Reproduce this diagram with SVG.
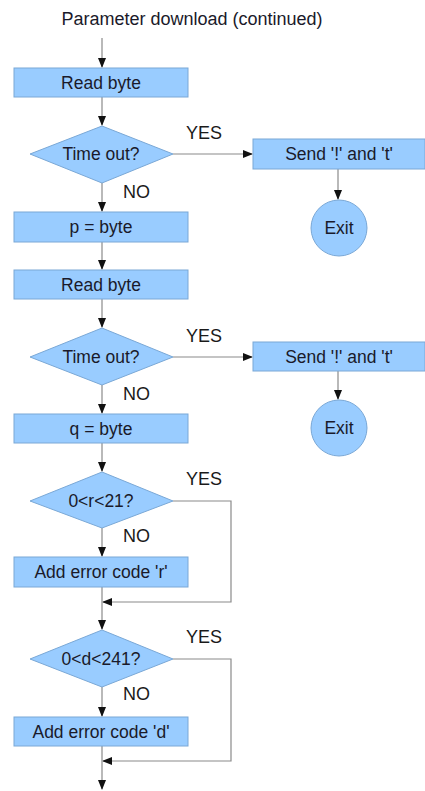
<svg xmlns="http://www.w3.org/2000/svg" width="425" height="791" viewBox="0 0 425 791">
<style>
.n{fill:#99ccff;stroke:#7aa8d6;stroke-width:1}
.t{font-family:"Liberation Sans",Arial,sans-serif;font-size:17.5px;fill:#1a1a2a;text-anchor:middle}
.l{font-family:"Liberation Sans",Arial,sans-serif;font-size:18px;fill:#1a1a1a}
.c{fill:none;stroke:#8a8a8a;stroke-width:1.2}
</style>
<defs>
<marker id="a" markerWidth="10" markerHeight="10" refX="9" refY="4" orient="auto" markerUnits="userSpaceOnUse">
<path d="M0,0 L10,4 L0,8 Z" fill="#111"/>
</marker>
</defs>
<rect width="425" height="791" fill="#fff"/>
<text class="t" x="192" y="25" style="font-size:18px">Parameter download (continued)</text>
<g id="connectors">
<path class="c" d="M102,38 V67" marker-end="url(#a)"/>
<path class="c" d="M102,97 V125" marker-end="url(#a)"/>
<path class="c" d="M173,154 H252" marker-end="url(#a)"/>
<path class="c" d="M338,169 V199" marker-end="url(#a)"/>
<path class="c" d="M102,183 V211" marker-end="url(#a)"/>
<path class="c" d="M102,242 V269" marker-end="url(#a)"/>
<path class="c" d="M102,299 V327" marker-end="url(#a)"/>
<path class="c" d="M173,357 H252" marker-end="url(#a)"/>
<path class="c" d="M338,371 V399" marker-end="url(#a)"/>
<path class="c" d="M102,385 V413" marker-end="url(#a)"/>
<path class="c" d="M102,443 V471" marker-end="url(#a)"/>
<path class="c" d="M102,528 V556" marker-end="url(#a)"/>
<path class="c" d="M173,501 H231 V602 H103" marker-end="url(#a)"/>
<path class="c" d="M102,587 V629" marker-end="url(#a)"/>
<path class="c" d="M102,687 V716" marker-end="url(#a)"/>
<path class="c" d="M173,659 H231 V761 H103" marker-end="url(#a)"/>
<path class="c" d="M102,746 V789" marker-end="url(#a)"/>
<text class="l" x="186" y="139">YES</text>
<text class="l" x="123" y="198">NO</text>
<text class="l" x="186" y="342">YES</text>
<text class="l" x="123" y="400">NO</text>
<text class="l" x="186" y="485">YES</text>
<text class="l" x="123" y="542">NO</text>
<text class="l" x="186" y="643">YES</text>
<text class="l" x="123" y="700">NO</text>
</g>
<g id="read1"><rect class="n" x="14" y="68" width="174" height="29"/><text class="t" x="101" y="89">Read byte</text></g>
<g id="timeout1"><polygon class="n" points="102,126 173,154 102,183 30,154"/><text class="t" x="101" y="160">Time out?</text></g>
<g id="send1"><rect class="n" x="253" y="139" width="172" height="30"/><text class="t" x="339" y="160">Send '!' and 't'</text></g>
<g id="exit1"><circle class="n" cx="339" cy="228" r="28"/><text class="t" x="339" y="234">Exit</text></g>
<g id="p"><rect class="n" x="14" y="212" width="174" height="30"/><text class="t" x="101" y="233">p = byte</text></g>
<g id="read2"><rect class="n" x="14" y="270" width="174" height="29"/><text class="t" x="101" y="291">Read byte</text></g>
<g id="timeout2"><polygon class="n" points="102,328 173,357 102,385 30,357"/><text class="t" x="101" y="363">Time out?</text></g>
<g id="send2"><rect class="n" x="253" y="342" width="172" height="29"/><text class="t" x="339" y="363">Send '!' and 't'</text></g>
<g id="exit2"><circle class="n" cx="339" cy="428" r="28"/><text class="t" x="339" y="434">Exit</text></g>
<g id="q"><rect class="n" x="14" y="414" width="174" height="29"/><text class="t" x="101" y="435">q = byte</text></g>
<g id="rcheck"><polygon class="n" points="102,472 173,501 102,528 30,501"/><text class="t" x="101" y="507">0&lt;r&lt;21?</text></g>
<g id="rerr"><rect class="n" x="14" y="557" width="174" height="30"/><text class="t" x="101" y="578">Add error code 'r'</text></g>
<g id="dcheck"><polygon class="n" points="102,630 173,659 102,687 30,659"/><text class="t" x="101" y="665">0&lt;d&lt;241?</text></g>
<g id="derr"><rect class="n" x="14" y="717" width="174" height="29"/><text class="t" x="101" y="738">Add error code 'd'</text></g>
</svg>
